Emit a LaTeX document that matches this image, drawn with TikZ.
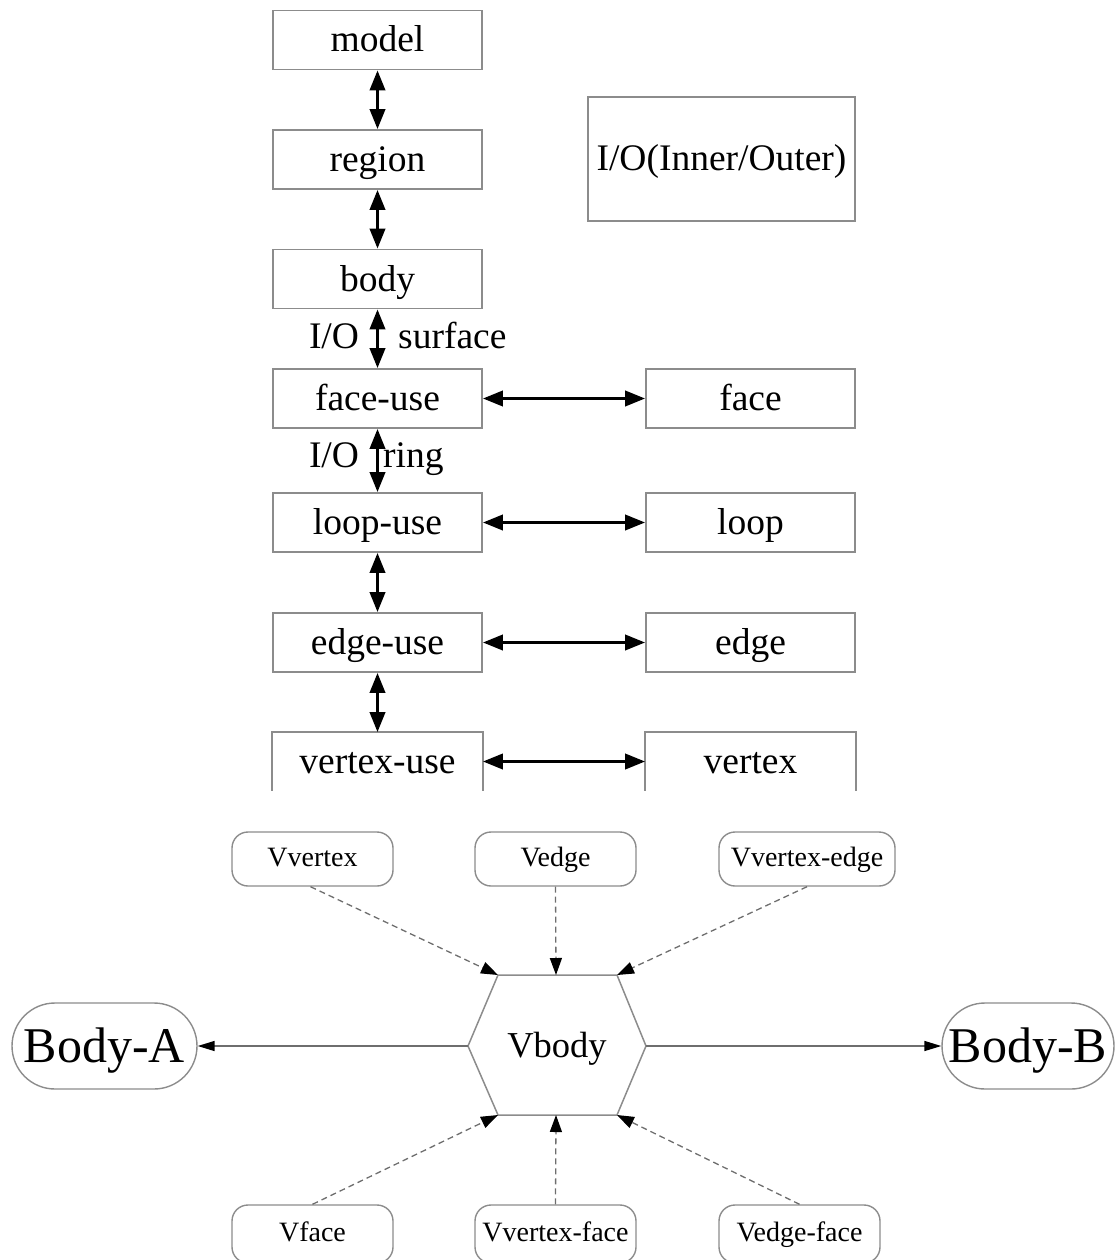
\documentclass[tikz,border=0pt]{standalone}
\usepackage{fontspec}
\setmainfont{Liberation Serif}
\usetikzlibrary{arrows.meta}
\definecolor{boxgray}{HTML}{8C8C8C}
\definecolor{linegray}{HTML}{6E6E6E}
\begin{document}
\begin{tikzpicture}[x=1pt,y=-1pt,
  box/.style={draw=boxgray, line width=1.6pt, minimum width=209pt, minimum height=59pt, inner sep=0pt, text height=28pt, text depth=4pt, font=\fontsize{37.5}{40}\selectfont},
  openbox/.style={box, draw=none},
  lbl/.style={inner sep=0pt, anchor=base, font=\fontsize{37.5}{40}\selectfont},
  dbl/.style={line width=3.5pt, {Triangle[length=20pt,width=15pt]}-{Triangle[length=20pt,width=15pt]}},
  rbox/.style={draw=boxgray, line width=1.4pt, rounded corners=16pt, minimum width=161pt, minimum height=54pt, inner sep=0pt, text height=20pt, text depth=4.6pt, font=\fontsize{28}{30}\selectfont},
  stadium/.style={draw=boxgray, line width=1.4pt, rounded corners=43pt, minimum width=185pt, minimum height=86pt, inner sep=0pt, text height=36pt, text depth=4pt, font=\fontsize{50}{52}\selectfont},
  dasharrow/.style={draw=linegray, line width=1.3pt, dash pattern=on 6pt off 4pt, -{Triangle[length=17pt,width=12pt,color=black]}},
  solidarrow/.style={draw=linegray, line width=1.5pt, -{Triangle[length=17pt,width=10pt,color=black]}},
  hexline/.style={draw=boxgray, line width=1.5pt}
]
\useasboundingbox (0,0) rectangle (1116,1260);

% left column
\node[box] (model) at (377.5,40) {model};
\node[box] (region) at (377.5,159.5) {region};
\node[box] (body) at (377.5,279) {body};
\node[box] (faceuse) at (377.5,398.5) {face-use};
\node[box] (loopuse) at (377.5,522.5) {loop-use};
\node[box] (edgeuse) at (377.5,642.5) {edge-use};
\node[openbox, minimum height=57pt] (vertexuse) at (377.5,761.5) {vertex-use};
\draw[draw=boxgray, line width=1.6pt] (vertexuse.south west) -- (vertexuse.north west) -- (vertexuse.north east) -- (vertexuse.south east);

% right column
\node[box, minimum width=267pt, minimum height=124pt] (io) at (721.5,159) {I/O(Inner/Outer)};
\node[box] (face) at (750.5,398.5) {face};
\node[box] (loop) at (750.5,522.5) {loop};
\node[box] (edge) at (750.5,642.5) {edge};
\node[openbox, minimum height=57pt] (vertex) at (750.5,761.5) {vertex};
\draw[draw=boxgray, line width=1.6pt] (vertex.south west) -- (vertex.north west) -- (vertex.north east) -- (vertex.south east);

% vertical arrows
\draw[dbl] (model.south) -- (region.north);
\draw[dbl] (region.south) -- (body.north);
\draw[dbl] (body.south) -- (faceuse.north);
\draw[dbl] (faceuse.south) -- (loopuse.north);
\draw[dbl] (loopuse.south) -- (edgeuse.north);
\draw[dbl] (edgeuse.south) -- (vertexuse.north);

% horizontal arrows
\draw[dbl] (faceuse.east) -- (face.west);
\draw[dbl] (loopuse.east) -- (loop.west);
\draw[dbl] (edgeuse.east) -- (edge.west);
\draw[dbl] (vertexuse.east) -- (vertex.west);

% labels
\node[lbl] (io1) at (334,348) {I/O};
\node[lbl, anchor=base west] (surf) at (398,348) {surface};
\node[lbl] (io2) at (334,467) {I/O};
\node[lbl, anchor=base west] (ring) at (383,467) {ring};

% bottom part
\node[rbox] (vvertex) at (312.5,859) {Vvertex};
\node[rbox] (vedge) at (555.5,859) {Vedge};
\node[rbox, minimum width=176pt] (vvertexedge) at (807,859) {Vvertex-edge};

\node[rbox, minimum height=58pt] (vface) at (312.5,1234) {Vface};
\node[rbox, minimum height=58pt] (vvertexface) at (555.5,1234) {Vvertex-face};
\node[rbox, minimum height=58pt] (vedgeface) at (799.5,1234) {Vedge-face};

\node[stadium] (bodyA) at (104.5,1046) {Body-A};
\node[stadium, minimum width=172pt] (bodyB) at (1028,1046) {Body-B};

% hexagon
\coordinate (h1) at (498,975);
\coordinate (h2) at (617,975);
\coordinate (h3) at (646,1046);
\coordinate (h4) at (617,1115);
\coordinate (h5) at (498,1115);
\coordinate (h6) at (468,1046);
\coordinate (htop) at (556,975);
\coordinate (hbot) at (556,1115);
\draw[hexline] (h1) -- (h2) -- (h3) -- (h4) -- (h5) -- (h6) -- cycle;
\node[inner sep=0pt, text height=27pt, text depth=5pt, font=\fontsize{36.5}{38}\selectfont] (vbody) at (557,1046) {Vbody};

% dashed arrows
\draw[dasharrow] ([xshift=-2pt]vvertex.south) -- (h1);
\draw[dasharrow] (vedge.south) -- (htop);
\draw[dasharrow] (vvertexedge.south) -- (h2);
\draw[dasharrow] (vface.north) -- (h5);
\draw[dasharrow] (vvertexface.north) -- (hbot);
\draw[dasharrow] (vedgeface.north) -- (h4);

% solid arrows
\draw[solidarrow] (h6) -- (bodyA.east);
\draw[solidarrow] (h3) -- (bodyB.west);
\end{tikzpicture}
\end{document}
